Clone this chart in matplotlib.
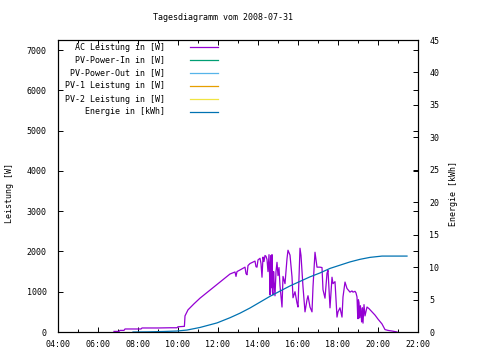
"""
Tagesdiagramm PV-Anlage, 2008-07-31
"""

import matplotlib
matplotlib.use("Agg")
import matplotlib.pyplot as plt
from matplotlib.ticker import MultipleLocator

# AC power (time in decimal hours, W)
ac_time = [6.80, 7.05, 7.10, 7.30, 7.35, 8.15, 8.20, 9.00, 9.60, 9.95, 10.00, 10.32,
           10.35, 10.50, 10.80, 11.10, 11.40, 11.60, 12.00, 12.35, 12.60, 12.85,
           12.90, 12.95, 13.10, 13.35, 13.40, 13.45, 13.50, 13.60, 13.85, 13.90,
           13.95, 14.00, 14.10, 14.15, 14.20, 14.25, 14.30, 14.35, 14.40, 14.45,
           14.50, 14.55, 14.58, 14.60, 14.62, 14.65, 14.68, 14.70, 14.72, 14.75,
           14.78, 14.80, 14.85, 14.90, 14.95, 15.00, 15.05, 15.10, 15.20, 15.25,
           15.35, 15.45, 15.50, 15.60, 15.70, 15.75, 15.85, 15.95, 16.00, 16.10,
           16.15, 16.25, 16.35, 16.45, 16.50, 16.60, 16.70, 16.75, 16.85, 16.95,
           17.10, 17.20, 17.25, 17.35, 17.45, 17.50, 17.60, 17.70, 17.75,
           17.85, 17.95, 18.00, 18.10, 18.20, 18.25, 18.35, 18.45, 18.60,
           18.70, 18.75, 18.85, 18.90, 18.95, 18.98, 19.00, 19.02, 19.05, 19.08,
           19.10, 19.12, 19.15, 19.18, 19.20, 19.22, 19.25, 19.30, 19.35, 19.45,
           19.55, 19.70, 19.85, 20.00, 20.20, 20.35, 20.50, 20.75, 20.95]
ac_power = [15, 15, 40, 40, 75, 75, 100, 100, 105, 105, 130, 140,
            400, 550, 700, 840, 960, 1040, 1200, 1340, 1440, 1490,
            1380, 1500, 1540, 1610, 1450, 1420, 1650, 1700, 1760, 1620,
            1610, 1790, 1830, 1700, 1360, 1860, 1750, 1900, 1880, 1800,
            1500, 1920, 1400, 920, 1700, 1900, 1100, 1920, 1000, 920,
            1500, 1300, 900, 1500, 1730, 1400, 1600, 1150, 620, 1380,
            1200, 1820, 2030, 1910, 1370, 850, 1000, 720, 620, 2080,
            1900, 1120, 500, 800, 900, 620, 500, 1120, 1980, 1610,
            1610, 1600, 1050, 840, 1460, 1530, 600, 1360, 1200,
            1250, 370, 500, 600, 370, 870, 1240, 1080, 990,
            1020, 990, 1010, 970, 870, 450, 330, 800, 730, 350,
            450, 650, 500, 250, 350, 600, 220, 680, 400, 620,
            580, 500, 420, 320, 200, 60, 40, 20, 0]

# cumulated energy (time in decimal hours, kWh)
en_time = [7.75, 8.50, 9.30, 9.95, 10.45, 11.10, 11.95, 12.60, 13.10, 13.60,
           14.10, 14.60, 15.10, 15.60, 16.10, 16.60, 17.10, 17.60, 18.10,
           18.60, 19.10, 19.60, 20.20, 20.80, 21.45]
en_kwh = [0.0, 0.02, 0.08, 0.15, 0.3, 0.7, 1.4, 2.2, 2.9, 3.7,
          4.6, 5.5, 6.3, 7.1, 7.8, 8.5, 9.1, 9.8, 10.3,
          10.8, 11.2, 11.5, 11.7, 11.7, 11.7]

xticks = [4, 6, 8, 10, 12, 14, 16, 18, 20, 22]
xlabels = ["04:00", "06:00", "08:00", "10:00", "12:00", "14:00",
           "16:00", "18:00", "20:00", "22:00"]

legend_labels = ["AC Leistung in [W]", "PV-Power-In in [W]", "PV-Power-Out in [W]",
                 "PV-1 Leistung in [W]", "PV-2 Leistung in [W]", "Energie in [kWh]"]
legend_colors = ["#9400d3", "#009e73", "#56b4e9", "#e69f00", "#f0e442", "#0072b2"]

FONT = "DejaVu Sans Mono"
FS = 6.0

plt.rcParams["font.family"] = FONT
plt.rcParams["font.size"] = FS

fig = plt.figure(figsize=(4.8, 3.6), dpi=100)
ax = fig.add_axes([58 / 480, 28 / 360, 360 / 480, 292 / 360])
ax2 = ax.twinx()

ax.plot(ac_time, ac_power, color=legend_colors[0], lw=0.9)
ax2.plot(en_time, en_kwh, color=legend_colors[5], lw=0.9)

ax.set_xlim(4, 22)
ax.set_ylim(0, 7250)
ax2.set_ylim(0, 45)

ax.set_xticks(xticks)
ax.set_xticklabels(xlabels)
ax.xaxis.set_minor_locator(MultipleLocator(1))
ax.yaxis.set_major_locator(MultipleLocator(1000))
ax2.yaxis.set_major_locator(MultipleLocator(5))

ax.tick_params(axis="both", which="major", direction="in", length=3.5, width=0.7,
               top=True, right=True, labelsize=FS)
ax.tick_params(axis="x", which="minor", direction="in", length=2.2, width=0.7, top=True)
ax.tick_params(axis="x", pad=6)
ax.tick_params(axis="y", pad=8)
ax2.tick_params(axis="y", direction="in", length=3.5, width=0.7, pad=8, labelsize=FS)

for a in (ax, ax2):
    for s in a.spines.values():
        s.set_linewidth(0.8)
        s.set_color("black")

# legend, gnuplot style: text right aligned, sample line on the right
for i, (lab, col) in enumerate(zip(legend_labels, legend_colors)):
    yy = (332 - 47 - 13 * i) / 292
    ax.text(0.297, yy, lab, transform=ax.transAxes, ha="right", va="center", fontsize=FS)
    ax.plot([0.367, 0.444], [yy, yy], transform=ax.transAxes, color=col, lw=0.9)

fig.text(223 / 480, 1 - 18 / 360, "Tagesdiagramm vom 2008-07-31", ha="center", va="center",
         fontsize=FS)
fig.text(10 / 480, 1 - 193 / 360, "Leistung [W]", rotation=90, ha="center", va="center",
         fontsize=FS)
fig.text(453 / 480, 1 - 194 / 360, "Energie [kWh]", rotation=90, ha="center", va="center",
         fontsize=FS)

fig.savefig("out.png", dpi=100)
